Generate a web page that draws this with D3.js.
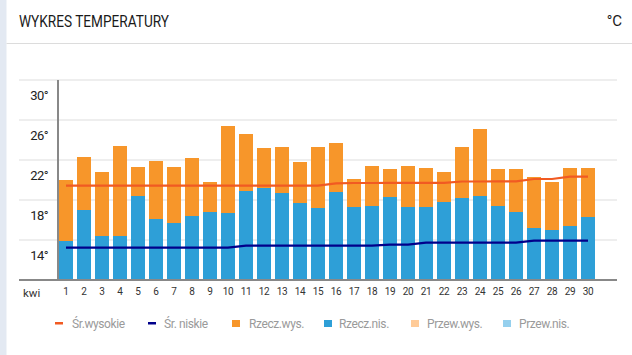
<!DOCTYPE html>
<html>
<head>
<meta charset="utf-8">
<script src="https://cdn.jsdelivr.net/npm/d3@7"></script>
<style>
html,body{margin:0;padding:0;background:#fff;}
svg{display:block;font-family:Roboto,"Noto Sans",sans-serif;}
</style>
</head>
<body>
<svg id="chart" width="632" height="355"></svg>
<script>
// ---- data ----
const days = d3.range(1, 31).map(String);
const monthLabel = "kwi";
const realHigh = [20.0,22.3,20.8,23.4,21.3,21.9,21.3,22.2,19.8,25.4,24.6,23.2,23.3,21.8,23.3,23.7,20.1,21.4,21.1,21.4,21.2,20.8,23.3,25.1,21.1,21.1,20.3,19.8,21.2,21.2];
const realLow  = [13.9,17.0,14.4,14.4,18.4,16.1,15.7,16.4,16.8,16.7,18.9,19.2,18.7,17.7,17.2,18.8,17.3,17.4,18.3,17.3,17.3,17.8,18.2,18.4,17.4,16.8,15.2,15.0,15.4,16.3];
const avgHigh  = [19.43,19.43,19.43,19.43,19.43,19.43,19.43,19.43,19.43,19.43,19.43,19.43,19.43,19.43,19.43,19.67,19.7,19.7,19.72,19.72,19.72,19.72,19.85,19.85,19.87,19.87,20.1,20.1,20.33,20.33];
const avgLow   = [13.23,13.23,13.23,13.23,13.23,13.23,13.23,13.23,13.23,13.23,13.43,13.43,13.43,13.43,13.43,13.43,13.43,13.43,13.53,13.53,13.73,13.73,13.73,13.73,13.73,13.73,13.93,13.93,13.93,13.93];
const yTicks = [14, 18, 22, 26, 30];
const legendItems = [
  {label:"Śr.wysokie", type:"line", color:"#f15a22"},
  {label:"Śr. niskie", type:"line", color:"#00008b"},
  {label:"Rzecz.wys.", type:"rect", color:"#f7962a"},
  {label:"Rzecz.nis.", type:"rect", color:"#2e9fd7"},
  {label:"Przew.wys.", type:"rect", color:"#ffcb98"},
  {label:"Przew.nis.", type:"rect", color:"#95d0ee"}
];

const svg = d3.select("#chart");
const W = 632, H = 355;

// background panel
svg.append("rect").attr("x",0).attr("y",0).attr("width",W).attr("height",H).attr("fill","#fff");
svg.append("rect").attr("x",0).attr("y",0).attr("width",6.5).attr("height",H).attr("fill","#e3e9f2");

// header
svg.append("text").attr("x",19).attr("y",21).attr("dominant-baseline","central")
  .attr("font-size",16).attr("fill","#1a1a1a")
  .attr("textLength",150).attr("lengthAdjust","spacingAndGlyphs")
  .text("WYKRES TEMPERATURY");
svg.append("text").attr("x",622).attr("y",21).attr("dominant-baseline","central")
  .attr("text-anchor","end").attr("font-size",15).attr("fill","#1a1a1a")
  .text("°C");
svg.append("line").attr("x1",6.5).attr("x2",W).attr("y1",43.5).attr("y2",43.5)
  .attr("stroke","#dcdcdc").attr("stroke-width",1);

// scales
const x = d3.scaleBand().domain(days).range([57, 597]).paddingInner(4/18).paddingOuter(2/18);
const y = d3.scaleLinear().domain([10, 30]).range([280, 80]);

// gridlines
svg.append("g").selectAll("line").data(yTicks).join("line")
  .attr("x1",19).attr("x2",617)
  .attr("y1",d=>y(d)).attr("y2",d=>y(d))
  .attr("stroke","#eeeeee").attr("stroke-width",2);

// y tick labels (placed below the gridline)
svg.append("g").selectAll("text").data(yTicks).join("text")
  .attr("x",48).attr("y",d=>y(d)+15.5)
  .attr("text-anchor","end").attr("dominant-baseline","central")
  .attr("font-size",13).attr("fill","#222").attr("letter-spacing",-0.6)
  .text(d=>d+"°");

// bars
const bars = svg.append("g");
bars.selectAll("rect.hi").data(days).join("rect").attr("class","hi")
  .attr("x",d=>x(d)).attr("width",x.bandwidth())
  .attr("y",(d,i)=>y(realHigh[i])).attr("height",(d,i)=>y(10)-y(realHigh[i]))
  .attr("fill",legendItems[2].color);
bars.selectAll("rect.lo").data(days).join("rect").attr("class","lo")
  .attr("x",d=>x(d)).attr("width",x.bandwidth())
  .attr("y",(d,i)=>y(realLow[i])).attr("height",(d,i)=>y(10)-y(realLow[i]))
  .attr("fill",legendItems[3].color);

// average lines
const line = d3.line().x((v,i)=>x(days[i])+x.bandwidth()/2).y(v=>y(v));
svg.append("path").datum(avgHigh).attr("d",line).attr("fill","none")
  .attr("stroke",legendItems[0].color).attr("stroke-width",2.2);
svg.append("path").datum(avgLow).attr("d",line).attr("fill","none")
  .attr("stroke",legendItems[1].color).attr("stroke-width",2.2);

// axes lines
svg.append("line").attr("x1",58).attr("x2",58).attr("y1",80).attr("y2",280)
  .attr("stroke","#888").attr("stroke-width",2);
svg.append("line").attr("x1",19).attr("x2",617).attr("y1",280).attr("y2",280)
  .attr("stroke","#888").attr("stroke-width",2);

// x axis labels
const xAxis = d3.axisBottom(x).tickSize(0).tickPadding(0);
const gx = svg.append("g").attr("transform","translate(0,288)").call(xAxis);
gx.select(".domain").remove();
gx.selectAll("text").attr("font-size",10).attr("fill","#333")
  .attr("font-family","Roboto,sans-serif").attr("dy","0.71em").attr("letter-spacing",-0.3);
svg.append("text").attr("x",23).attr("y",293).attr("dominant-baseline","central")
  .attr("font-size",11.5).attr("fill","#333").text(monthLabel);

// legend
const legX = [55, 148, 232, 324, 411, 503];
const legTextX = [72, 164, 249, 339, 427, 519];
const lg = svg.append("g");
legendItems.forEach((it,i)=>{
  if(it.type==="line"){
    lg.append("rect").attr("x",legX[i]).attr("y",322).attr("width",8).attr("height",2.5).attr("fill",it.color);
  } else {
    lg.append("rect").attr("x",legX[i]).attr("y",320).attr("width",8).attr("height",7).attr("fill",it.color);
  }
  lg.append("text").attr("x",legTextX[i]).attr("y",323.5).attr("dominant-baseline","central")
    .attr("font-size",12).attr("fill","#9a9a9a").attr("letter-spacing",-0.4).text(it.label);
});
</script>
</body>
</html>
